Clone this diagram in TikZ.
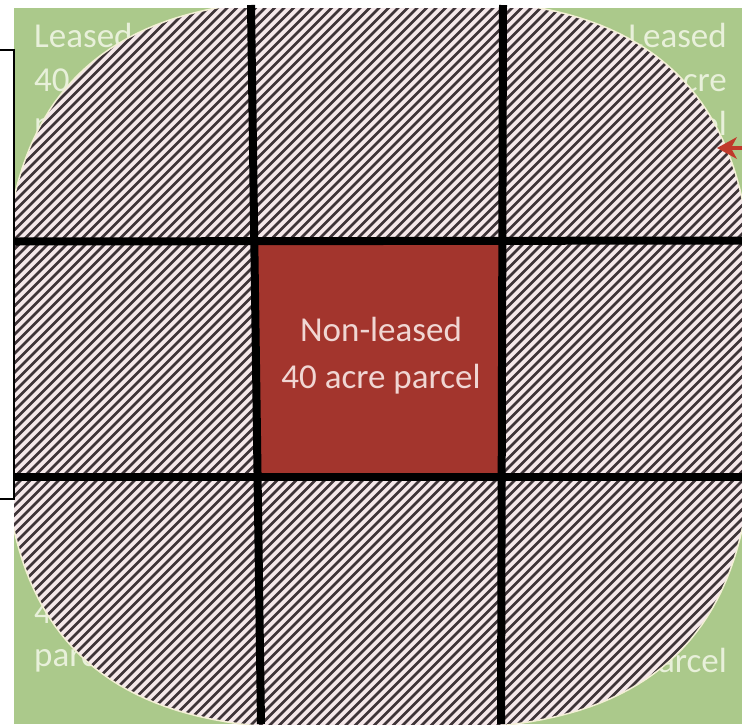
\documentclass[tikz,border=0pt]{standalone}
\usepackage{fontspec}
\setmainfont{Carlito}
\definecolor{bggreen}{HTML}{ABC98B}
\definecolor{hatchbg}{HTML}{F5E8EA}
\definecolor{hatchfg}{HTML}{3E3438}
\definecolor{parcelred}{HTML}{A3352D}
\definecolor{redtext}{HTML}{F0D6D3}
\definecolor{greentext}{HTML}{E8F0DA}
\definecolor{arrowred}{HTML}{C0392B}
\definecolor{edgecream}{HTML}{F3EFD6}
\begin{document}
\begin{tikzpicture}[x=1pt,y=-1pt,
  gridline/.style={line width=8pt, black},
  cornertext/.style={text=greentext, font=\fontsize{35}{44}\selectfont, inner sep=0pt},
  hatchline/.style={hatchfg, line width=2.6pt},
  bracket/.style={black, line width=1.2pt},
  parcelbox/.style={fill=parcelred, draw=none, minimum width=244pt, minimum height=231pt, inner sep=0pt},
  parceltext/.style={text=redtext, align=center, font=\fontsize{35}{47}\selectfont, inner sep=0pt},
  pointershaft/.style={arrowred, line width=4pt},
  pointerhead/.style={fill=arrowred}]
\useasboundingbox (0,0) rectangle (742,724);
\fill[white] (0,0) rectangle (742,724);
\fill[bggreen] (14,8) rectangle (742,724);
% corner texts
\node[cornertext, anchor=base west] (tl1) at (34,47) {Leased};
\node[cornertext, anchor=base west] (tl2) at (34,91) {40 acre};
\node[cornertext, anchor=base west] (tl3) at (34,135) {parcel};
\node[cornertext, anchor=base east] (tr1) at (727,47) {Leased};
\node[cornertext, anchor=base east] (tr2) at (727,91) {40 acre};
\node[cornertext, anchor=base east] (tr3) at (727,135) {parcel};
\node[cornertext, anchor=base west] (bl2) at (34,623) {40 acre};
\node[cornertext, anchor=base west] (bl3) at (34,666) {parcel};
\node[cornertext, anchor=base east] (br3) at (727,672) {parcel};
% hatched rounded shape, kept inside the green frame
\begin{scope}
  \clip (14,8) rectangle (742,724);
  \fill[hatchbg] plot[variable=\t, domain=1:359, samples=180]
    ({378+376*sign(cos(\t))*abs(cos(\t))^(0.66667)}, {364+366*sign(sin(\t))*abs(sin(\t))^(0.66667)}) -- cycle;
  \begin{scope}
    \clip plot[variable=\t, domain=1:359, samples=180]
      ({378+376*sign(cos(\t))*abs(cos(\t))^(0.66667)}, {364+366*sign(sin(\t))*abs(sin(\t))^(0.66667)}) -- cycle;
    \foreach \c in {140,149.5,...,1350} \draw[hatchline] (\c+60,-60) -- (\c-800,800);
  \end{scope}
  \draw[edgecream, line width=1.5pt] plot[variable=\t, domain=1:359, samples=180]
    ({378+376*sign(cos(\t))*abs(cos(\t))^(0.66667)}, {364+366*sign(sin(\t))*abs(sin(\t))^(0.66667)}) -- cycle;
\end{scope}
% bracket
\draw[bracket] (0,50) -- (14,50) -- (14,499) -- (0,499);
% centre parcel
\node[parcelbox] (parcel) at (380,360.5) {};
\node[parceltext] (parcellabel) at (381,356) {Non-leased\\40 acre parcel};
% grid
\draw[gridline] (251,5) -- (261,724);
\draw[gridline] (503,5) -- (501,724);
\draw[gridline] (14,241.5) -- (742,240.5);
\draw[gridline] (14,477) -- (742,477);
% arrow (partly outside the frame)
\coordinate (arrowtip) at (717,148);
\coordinate (arrowstart) at (760,148);
\draw[pointershaft] (arrowstart) -- ([xshift=12pt]arrowtip);
\fill[pointerhead] (arrowtip) -- ++(20,-11) -- ++(-6,11) -- ++(6,11) -- cycle;
\end{tikzpicture}
\end{document}
